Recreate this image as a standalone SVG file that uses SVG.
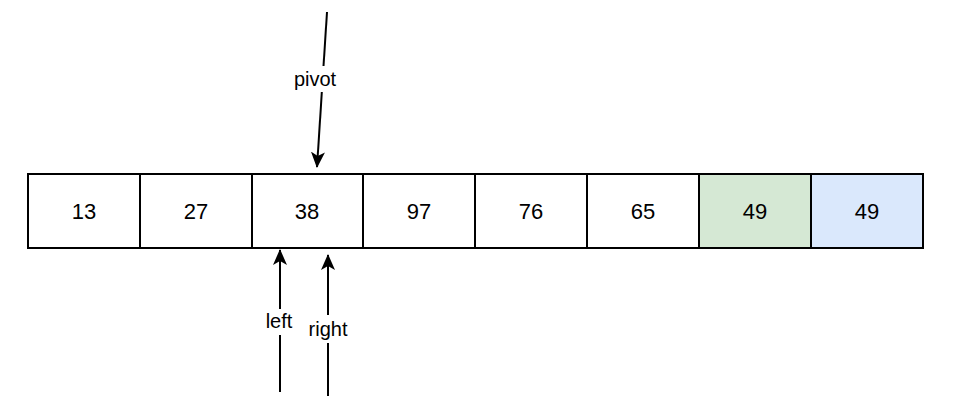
<svg xmlns="http://www.w3.org/2000/svg" width="958" height="407" viewBox="0 0 958 407">
<style>
.c{stroke:#000;stroke-width:2}
.t{font-family:"Liberation Sans",Arial,sans-serif;font-size:22px;text-anchor:middle;dominant-baseline:central}
.l{font-family:"Liberation Sans",Arial,sans-serif;font-size:20px;text-anchor:middle;dominant-baseline:central}
.e{stroke:#000;stroke-width:2;fill:none}
</style>
<defs><marker id="a" markerWidth="16" markerHeight="16" refX="15" refY="8" orient="auto" markerUnits="userSpaceOnUse" viewBox="0 0 16 16"><path d="M0,1 L16,8 L0,15 L4,8 Z" fill="#000"/></marker></defs>
<rect x="0" y="0" width="958" height="407" fill="#fff"/>
<g id="n0"><rect class="c" x="28" y="174" width="112" height="74" fill="#fff"/><text class="t" x="84" y="211">13</text></g>
<g id="n1"><rect class="c" x="140" y="174" width="112" height="74" fill="#fff" stroke-width="1"/><text class="t" x="196" y="211">27</text></g>
<g id="n2"><rect class="c" x="252" y="174" width="111" height="74" fill="#fff" stroke-width="1"/><text class="t" x="307" y="211">38</text></g>
<g id="n3"><rect class="c" x="363" y="174" width="112" height="74" fill="#fff"/><text class="t" x="419" y="211">97</text></g>
<g id="n4"><rect class="c" x="475" y="174" width="112" height="74" fill="#fff"/><text class="t" x="531" y="211">76</text></g>
<g id="n5"><rect class="c" x="587" y="174" width="112" height="74" fill="#fff"/><text class="t" x="643" y="211">65</text></g>
<g id="n6"><rect class="c" x="699" y="174" width="112" height="74" fill="#d5e8d4" stroke-width="1"/><text class="t" x="755" y="211">49</text></g>
<g id="n7"><rect class="c" x="811" y="174" width="112" height="74" fill="#dae8fc" stroke-width="1"/><text class="t" x="867" y="211">49</text></g>
<g id="edges">
<line class="e" x1="327" y1="12" x2="317" y2="167" marker-end="url(#a)"/>
<rect x="286" y="66" width="60" height="26" fill="#fff"/><text class="l" x="315" y="79">pivot</text>
<line class="e" x1="280" y1="392" x2="280" y2="250" marker-end="url(#a)"/>
<rect x="260" y="309" width="40" height="26" fill="#fff"/><text class="l" x="279" y="321">left</text>
<line class="e" x1="328" y1="396" x2="328" y2="255" marker-end="url(#a)"/>
<rect x="302" y="315" width="52" height="28" fill="#fff"/><text class="l" x="328" y="329">right</text>
</g>
</svg>
